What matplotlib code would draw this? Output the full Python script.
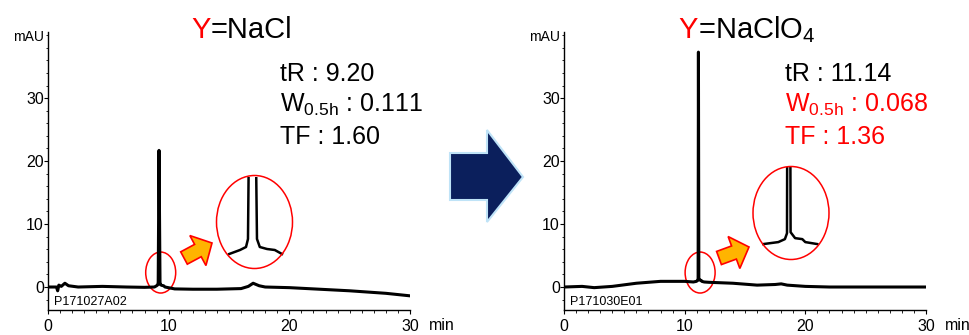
import matplotlib
matplotlib.use("Agg")
import matplotlib.pyplot as plt
from matplotlib.patches import Ellipse, Polygon
from matplotlib.ticker import MultipleLocator
import numpy as np

plt.rcParams['font.family'] = ['Liberation Sans', 'DejaVu Sans']
plt.rcParams['mathtext.fontset'] = 'custom'
plt.rcParams['mathtext.rm'] = 'Liberation Sans'
plt.rcParams['mathtext.it'] = 'Liberation Sans:italic'
plt.rcParams['mathtext.bf'] = 'Liberation Sans:bold'

# chromatogram (time in min, signal in mAU)
nacl_time = [0, 0.7, 0.8, 0.9, 1.1, 1.4, 1.7, 2.5, 4.5, 6.5, 8.0, 8.82, 9.0, 9.10,
             9.133, 9.20, 9.283, 9.33, 9.45, 9.58, 9.70, 10.5, 12, 14, 16, 16.6,
             17.0, 17.5, 18, 20, 22, 25, 28, 30]
nacl_signal = [0, 0, -0.6, 0.3, 0.1, 0.6, 0.2, 0.0, 0.1, 0.0, -0.05, 0.0, 0.2, 0.35,
               0.75, 21.7, 0.75, 0.35, 0.25, 0.2, 0.0, -0.3, -0.35, -0.35, -0.25, 0.1,
               0.6, 0.2, 0.0, -0.1, -0.3, -0.6, -1.0, -1.4]

naclo4_time = [0, 1.5, 2.5, 4, 6, 8, 10, 10.72, 10.97, 11.08, 11.115, 11.14, 11.175,
               11.25, 11.37, 11.42, 11.62, 12, 14, 16, 17.5, 18, 18.5, 20, 22, 30]
naclo4_signal = [0, 0.1, -0.1, 0.1, 0.6, 0.9, 0.9, 0.8, 0.9, 1.05, 1.35, 37.3, 1.4,
                 1.1, 1.05, 0.9, 0.8, 0.75, 0.6, 0.3, 0.4, 0.5, 0.3, 0.1, 0.0, 0.0]

titles = ["=NaCl", "=NaClO$_\\mathregular{4}$"]
sample_ids = ["P171027A02", "P171030E01"]
nacl_stats = ["tR : 9.20", r"$\mathregular{W_{0.5h}}$ : 0.111", "TF : 1.60"]
naclo4_stats = ["tR : 11.14", r"$\mathregular{W_{0.5h}}$ : 0.068", "TF : 1.36"]
nacl_stat_colors = ["black", "black", "black"]
naclo4_stat_colors = ["black", "red", "red"]
x_ticks = [0, 10, 20, 30]
y_ticks = [0, 10, 20, 30]

W, H = 969, 335
fig = plt.figure(figsize=(W / 100, H / 100), dpi=100)


def fx(px):
    return px / W


def fy(py):
    return 1 - py / H


def arrow_poly(tail, tip, body_w, head_w, head_len):
    tail = np.array(tail, float)
    tip = np.array(tip, float)
    d = tip - tail
    d /= np.hypot(*d)
    n = np.array([-d[1], d[0]])
    base = tip - d * head_len
    pts = [tail + n * body_w / 2, base + n * body_w / 2, base + n * head_w / 2, tip,
           base - n * head_w / 2, base - n * body_w / 2, tail - n * body_w / 2]
    return [(fx(p[0]), fy(p[1])) for p in pts]


panels = [
    dict(x0=48, t=nacl_time, s=nacl_signal, title=titles[0], title_x=211,
         sid=sample_ids[0], stats=nacl_stats, colors=nacl_stat_colors, stat_x=280,
         big=(254.5, 222), inset_px=(226, 285), inset_t=(8.82, 9.70),
         inset_ylim=(-0.3, 3.85), arrow=((184, 258), (212, 243))),
    dict(x0=564, t=naclo4_time, s=naclo4_signal, title=titles[1], title_x=698,
         sid=sample_ids[1], stats=naclo4_stats, colors=naclo4_stat_colors, stat_x=785,
         big=(791, 213), inset_px=(760, 820), inset_t=(10.72, 11.62),
         inset_ylim=(0.5, 4.7), arrow=((719, 258), (749, 247))),
]

for p in panels:
    ax = fig.add_axes([fx(p['x0']), fy(310), 362 / W, 278 / H])
    ax.plot(p['t'], p['s'], color='black', lw=2.2, solid_joinstyle='round')
    ax.set_xlim(0, 30)
    ax.set_ylim(-3.65, 40.5)
    for side in ['top', 'right']:
        ax.spines[side].set_visible(False)
    for side in ['left', 'bottom']:
        ax.spines[side].set_linewidth(1.0)
    ax.set_xticks(x_ticks)
    ax.set_xticklabels(['0', '10', '20', '30'])
    ax.set_yticks(y_ticks)
    ax.xaxis.set_minor_locator(MultipleLocator(1))
    ax.yaxis.set_minor_locator(MultipleLocator(2))
    ax.tick_params(axis='x', which='major', length=3, pad=3.5, labelsize=11.5)
    ax.tick_params(axis='x', which='minor', length=1.8)
    ax.tick_params(axis='y', which='major', length=3, pad=0, labelsize=11.5)
    ax.tick_params(axis='y', which='minor', length=1.5)

    fig.text(fx(p['x0'] - 4), fy(37), "mAU", ha='right', va='center', fontsize=10)
    fig.text(fx(p['x0'] + 381), fy(326), "min", ha='left', va='center', fontsize=11.5)
    fig.text(fx(p['x0'] + 6), fy(302), p['sid'], ha='left', va='center', fontsize=9)

    fig.text(fx(p['title_x']), fy(38), "Y", color='red', ha='right', va='baseline', fontsize=21)
    fig.text(fx(p['title_x']), fy(38), p['title'], color='black', ha='left', va='baseline', fontsize=21)

    for txt, col, base in zip(p['stats'], p['colors'], [81, 112, 144]):
        fig.text(fx(p['stat_x']), fy(base), txt, color=col, ha='left', va='baseline', fontsize=18)

    # small ellipse around peak foot (data coords)
    i_peak = int(np.argmax(p['s']))
    ax.add_patch(Ellipse((p['t'][i_peak] + 0.14, 2.3), 30 / 12.07, 41 / 6.3,
                         fill=False, edgecolor='red', lw=1.1, clip_on=False))

    # enlarged view
    cx, cy = p['big']
    fig.patches.append(Ellipse((fx(cx), fy(cy)), 76 / W, 93 / H, fill=False,
                               edgecolor='red', lw=1.1, transform=fig.transFigure))
    left_px, right_px = p['inset_px']
    ins = fig.add_axes([fx(left_px), fy(cy + 38 if p['x0'] < 300 else cy + 37),
                        (right_px - left_px) / W, 83 / H])
    t = np.array(p['t'])
    s = np.array(p['s'])
    m = (t >= p['inset_t'][0]) & (t <= p['inset_t'][1])
    ins.plot(t[m], s[m], color='black', lw=1.8, solid_joinstyle='round')
    span = (right_px - left_px) / 60
    ctr = p['t'][i_peak] + (((left_px + right_px) / 2) - (cx - 2.5)) / 60
    ins.set_xlim(ctr - span / 2, ctr + span / 2)
    ins.set_ylim(*p['inset_ylim'])
    ins.axis('off')

    # yellow arrow
    tail, tip = p['arrow']
    fig.patches.append(Polygon(arrow_poly(tail, tip, 14, 34, 16), closed=True,
                               facecolor='#FFB400', edgecolor='red', lw=1.2,
                               transform=fig.transFigure))

# big navy arrow between panels
navy = [(450, 153), (487, 153), (487, 130), (523, 177), (487, 222), (487, 200), (450, 200)]
fig.patches.append(Polygon([(fx(a), fy(b)) for a, b in navy], closed=True,
                           facecolor='#0B1F5C', edgecolor='#BFE3F7', lw=1.5,
                           transform=fig.transFigure))

fig.savefig("out.png", dpi=100)
